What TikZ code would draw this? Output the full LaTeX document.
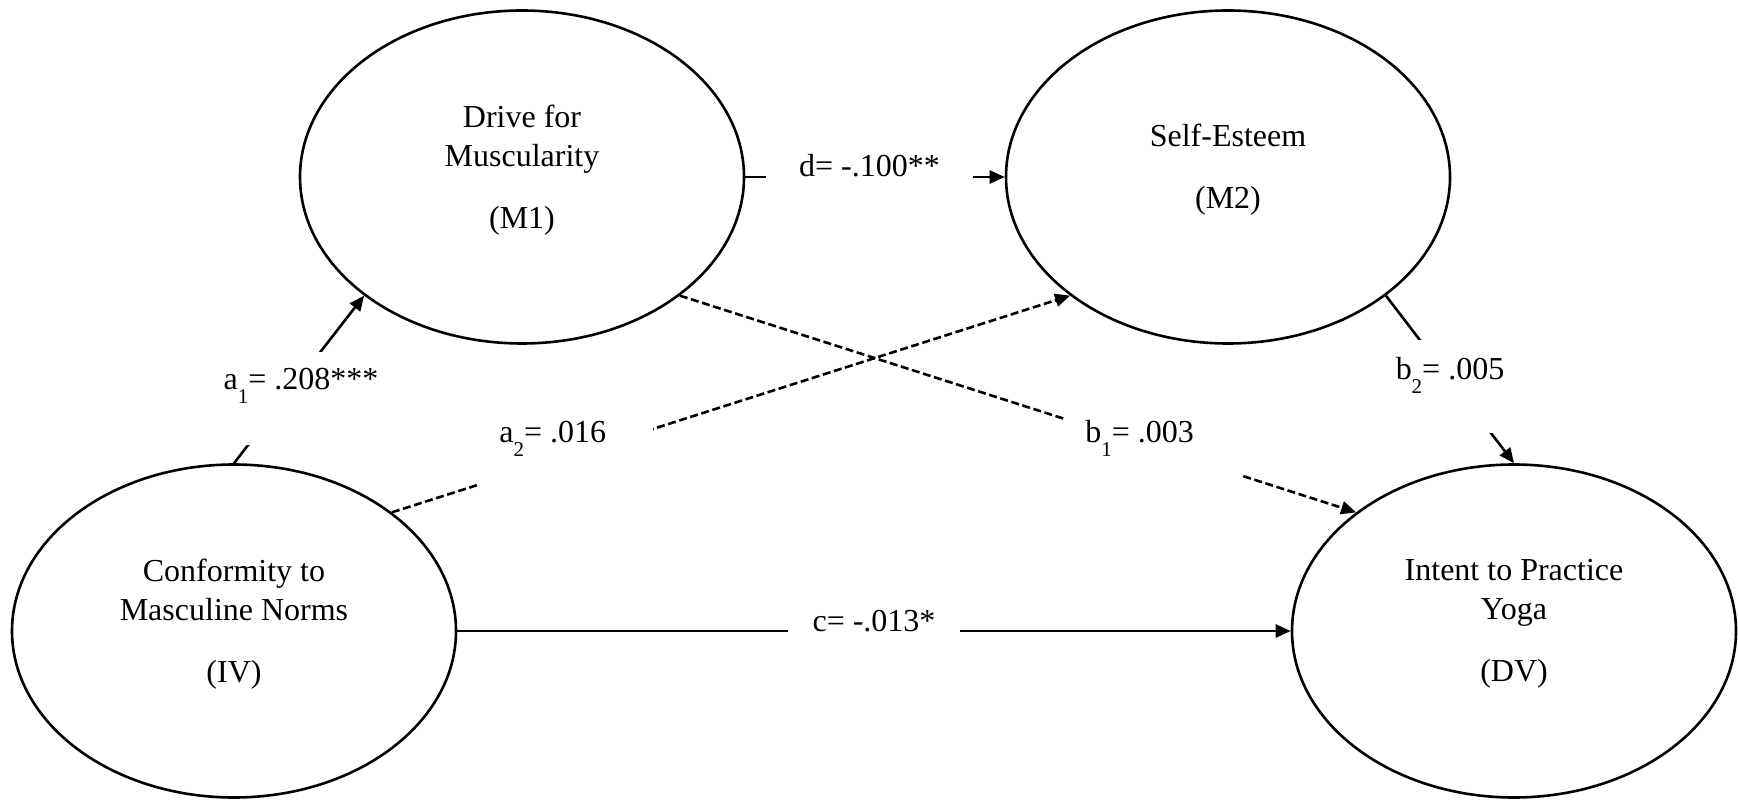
\documentclass[tikz,border=0pt]{standalone}
\usepackage{fontspec}
\setmainfont{Liberation Serif}
\usetikzlibrary{shapes.geometric,arrows.meta,positioning}

\newcommand{\coefsub}[1]{\raisebox{-7pt}{\fontsize{10.5}{12}\selectfont #1}}
\newcommand{\lastpad}{\rule[-10.5pt]{0pt}{10.5pt}}

\begin{document}
\begin{tikzpicture}[x=0.5pt,y=-0.5pt,
    varnode/.style={ellipse, draw, line width=1.3pt, minimum width=222pt,
      minimum height=166.5pt, inner sep=0pt, align=center,
      font=\fontsize{16}{19.5}\selectfont},
    effect/.style={line width=1.3pt, -{Triangle[length=7.5pt,width=6.5pt]}},
    nseffect/.style={effect, dash pattern=on 4pt off 1.8pt},
    coef/.style={fill=white, inner sep=0pt, anchor=base,
      font=\fontsize{16}{20}\selectfont}]

  \useasboundingbox (0,0) rectangle (1738,801);

  % variables
  \node[varnode] (IV) at (234,631) {Conformity to\\Masculine Norms\\[11.5pt](IV)\lastpad};
  \node[varnode] (M1) at (522,177) {Drive for\\Muscularity\\[11.5pt](M1)\lastpad};
  \node[varnode] (M2) at (1228,177) {Self-Esteem\\[11.5pt](M2)\lastpad};
  \node[varnode] (DV) at (1514,631) {Intent to Practice\\Yoga\\[11.5pt](DV)\lastpad};

  % paths
  \draw[effect] (IV.north) -- (M1.south west);
  \draw[nseffect] (IV.north east) -- (M2.south west);
  \draw[effect] (M1.east) -- (M2.west);
  \draw[nseffect] (M1.south east) -- (DV.north west);
  \draw[effect] (M2.south east) -- (DV.north);
  \draw[effect] (IV.east) -- (DV.west);

  % coefficients
  \node[coef, text height=19pt, text depth=27.5pt] (a1) at (301,390)
    {a\coefsub{1}= .208***};
  \node[coef, anchor=base west, text height=12pt, text depth=24pt] (a2) at (480,443)
    {\hspace*{9.5pt}a\coefsub{2}= .016\hspace*{23.5pt}};
  \node[coef, minimum width=103.5pt, text height=12pt, text depth=6pt] (d) at (869.5,177)
    {d= -.100**};
  \node[coef, anchor=base west, text height=14pt, text depth=20pt] (b1) at (1064,443)
    {\hspace*{10.5pt}b\coefsub{1}= .003\hspace*{24pt}};
  \node[coef, text height=20pt, text depth=26.5pt] (b2) at (1450,380)
    {b\coefsub{2}= .005};
  \node[coef, minimum width=86pt, text height=12pt, text depth=6pt] (c) at (874,631)
    {c= -.013*};
\end{tikzpicture}
\end{document}
